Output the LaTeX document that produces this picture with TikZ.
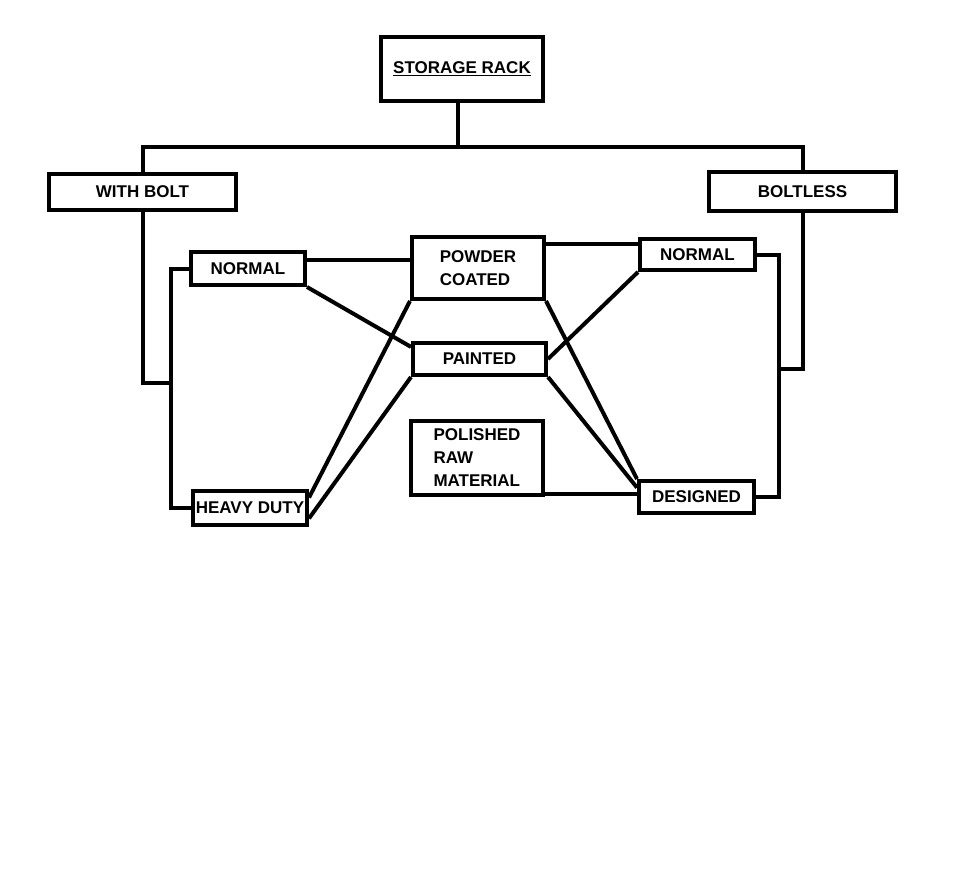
\documentclass[tikz,border=0pt]{standalone}
\usepackage{fontspec}
\setmainfont{Liberation Sans}
\usepackage{tikz}

\begin{document}
\begin{tikzpicture}[x=1pt,y=-1pt,line width=4pt,
    box/.style={draw,rectangle,inner sep=0pt,font=\bfseries\fontsize{17}{23}\selectfont},
    link/.style={line width=4pt}]
  \useasboundingbox (0,0) rectangle (972,880);

  %% ── top of the tree ──
  \node[box,minimum width=162,minimum height=64] (rack) at (462,69) {\underline{STORAGE RACK}};
  \node[box,minimum width=187,minimum height=36] (withbolt) at (142.5,192) {WITH BOLT};
  \node[box,minimum width=187,minimum height=39] (boltless) at (802.5,191.5) {BOLTLESS};

  %% ── rack types ──
  \node[box,minimum width=114,minimum height=33] (normL) at (248,268.5) {NORMAL};
  \node[box,minimum width=114,minimum height=34] (heavy) at (250,508) {HEAVY DUTY};
  \node[box,minimum width=115,minimum height=31] (normR) at (697.5,254.5) {NORMAL};
  \node[box,minimum width=115,minimum height=32] (designed) at (696.5,497) {DESIGNED};

  %% ── finishes ──
  \node[box,minimum width=132,minimum height=62,align=left] (powder) at (478,268) {POWDER\\COATED};
  \node[box,minimum width=133,minimum height=32] (painted) at (479.5,359) {PAINTED};
  \node[box,minimum width=132,minimum height=74,align=left] (polished) at (477,458) {POLISHED\\RAW\\MATERIAL};

  \coordinate (top) at (458,147);
  \coordinate (ljoin) at (171,383);
  \coordinate (rjoin) at (779,369);

  %% ── tree links ──
  \draw[link] (top |- rack.south) -- (top);
  \draw[link] (withbolt.north) |- (top) -| (boltless.north);
  \draw[link] (withbolt.south) |- (ljoin);
  \draw[link] (normL.west) -| (ljoin) |- (heavy.west);
  \draw[link] (boltless.south) |- (rjoin);
  \draw[link] (normR.east) -| (rjoin) |- (designed.east);

  %% ── finish links ──
  \draw[link] (normL.8) -- (normL.8 -| powder.west);
  \draw[link] (normL.south east) -- (painted.170);
  \draw[link] (heavy.10) -- (powder.south west);
  \draw[link] (heavy.-10) -- (painted.south west);
  \draw[link] (normR.170) -- (normR.170 -| powder.east);
  \draw[link] (powder.south east) -- (designed.north west);
  \draw[link] (painted.east) -- (normR.south west);
  \draw[link] (painted.south east) -- (designed.171);
  \draw[link] (designed.177) -- (designed.177 -| polished.east);
\end{tikzpicture}
\end{document}
